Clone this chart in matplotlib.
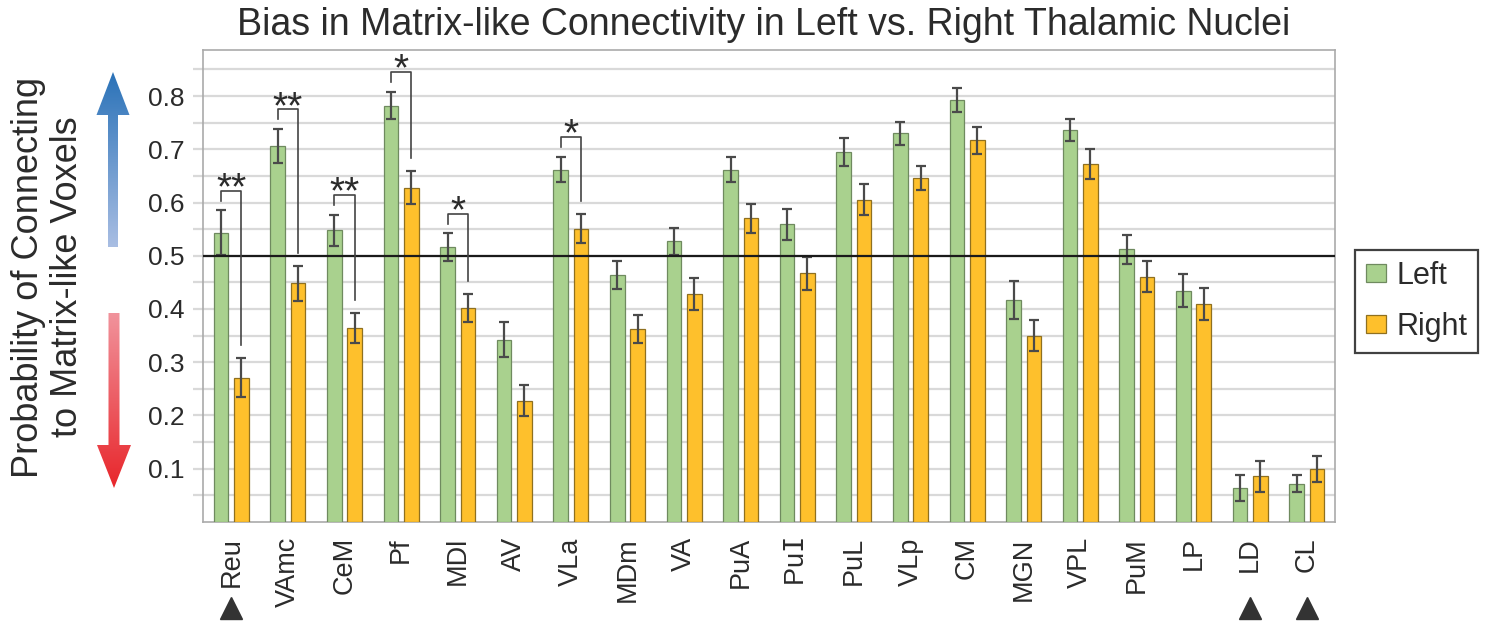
import numpy as np
import matplotlib
matplotlib.use("Agg")
import matplotlib.pyplot as plt
from matplotlib.patches import Polygon
from matplotlib.colors import LinearSegmentedColormap
import matplotlib.transforms as mtransforms

plt.rcParams['font.family'] = ['Liberation Sans', 'DejaVu Sans']

# data
nuclei = ['Reu', 'VAmc', 'CeM', 'Pf', 'MDl', 'AV', 'VLa', 'MDm', 'VA', 'PuA',
          'PuI', 'PuL', 'VLp', 'CM', 'MGN', 'VPL', 'PuM', 'LP', 'LD', 'CL']
left = [0.543, 0.706, 0.548, 0.782, 0.516, 0.342, 0.662, 0.464, 0.527, 0.662,
        0.559, 0.695, 0.730, 0.793, 0.417, 0.736, 0.512, 0.434, 0.064, 0.072]
left_err = [0.042, 0.032, 0.029, 0.026, 0.026, 0.033, 0.024, 0.027, 0.026, 0.024,
            0.029, 0.027, 0.022, 0.023, 0.035, 0.021, 0.027, 0.031, 0.024, 0.016]
right = [0.271, 0.448, 0.364, 0.628, 0.402, 0.228, 0.551, 0.363, 0.428, 0.570,
         0.467, 0.605, 0.646, 0.717, 0.350, 0.672, 0.461, 0.409, 0.086, 0.099]
right_err = [0.036, 0.033, 0.028, 0.031, 0.026, 0.029, 0.027, 0.026, 0.030, 0.027,
             0.031, 0.029, 0.023, 0.025, 0.029, 0.028, 0.029, 0.030, 0.029, 0.024]
sig_nuclei = ['Reu', 'VAmc', 'CeM', 'Pf', 'MDl', 'VLa']
sig_marks = ['**', '**', '**', '*', '*', '*']
flagged = ['Reu', 'LD', 'CL']

GREEN = '#a9d18e'
GOLD = '#fec02c'
TXT = '#2b2b2b'

W, H = 1491, 627
fig = plt.figure(figsize=(W / 100, H / 100), dpi=100)
ax = fig.add_axes([203 / W, 1 - 521.9 / H, (1335 - 203) / W, (521.9 - 50) / H])

x = np.arange(len(nuclei))
bw = 0.26
off = 0.18
ekw = dict(ecolor='#4a4a4a', elinewidth=1.6, capsize=3.8, capthick=1.6)
ax.bar(x - off, left, bw, color=GREEN, edgecolor='#6f8a5f', linewidth=0.9,
       yerr=left_err, error_kw=ekw, zorder=3, label='Left')
ax.bar(x + off, right, bw, color=GOLD, edgecolor='#8f7020', linewidth=0.9,
       yerr=right_err, error_kw=ekw, zorder=3, label='Right')

ax.axhline(0.5, color='#1a1a1a', lw=1.6, zorder=4)

# significance brackets
for name, mark in zip(sig_nuclei, sig_marks):
    i = nuclei.index(name)
    y0 = left[i] + left_err[i] + 0.018
    ytop = y0 + 0.019
    y1 = right[i] + right_err[i] + 0.025
    ax.plot([i - off, i - off, i + off, i + off], [y0, ytop, ytop, y1],
            color='#444444', lw=1.2, zorder=5, clip_on=False)
    ax.text(i, ytop - 0.016, mark, ha='center', va='baseline', fontsize=28,
            color=TXT, zorder=5)

ax.set_xlim(-0.5, len(nuclei) - 0.5)
ax.set_ylim(0, 0.8865)
ax.set_yticks(np.arange(0.1, 0.81, 0.1))
ax.set_yticklabels(['%.1f' % v for v in np.arange(0.1, 0.81, 0.1)])
ax.set_yticks(np.arange(0.05, 0.86, 0.1), minor=True)
ax.grid(axis='y', which='both', color='#d9d9d9', lw=1.6, zorder=0)
ax.tick_params(axis='y', which='both', length=7, width=1.6, color='#d9d9d9',
               pad=6, labelsize=19, labelcolor=TXT)
ax.set_xticks(x)
# the inferior pulvinar is printed with a slab-serif capital I
xlabels = [r'Pu$\mathtt{I}$' if n == 'PuI' else n for n in nuclei]
ax.set_xticklabels(xlabels, rotation=90, fontsize=19.5, color=TXT)
ax.tick_params(axis='x', length=0, pad=11)
for s in ax.spines.values():
    s.set_color('#aaaaaa')
    s.set_linewidth(1.2)

# triangles under flagged nuclei
trans = mtransforms.blended_transform_factory(ax.transData, ax.transAxes)
fx = [nuclei.index(n) for n in flagged]
ax.plot(fx, [-0.182] * len(fx), linestyle='none', marker='^', ms=16,
        color='#333333', transform=trans, clip_on=False)

fig.text(0.512, 1 - 25 / H,
         'Bias in Matrix-like Connectivity in Left vs. Right Thalamic Nuclei',
         ha='center', va='center', fontsize=27, color=TXT)
fig.text(48 / W, 1 - 277 / H, 'Probability of Connecting\nto Matrix-like Voxels',
         rotation=90, ha='center', va='center', fontsize=26, color=TXT,
         linespacing=1.15)

leg = fig.legend(loc='upper left', bbox_to_anchor=(1355 / W, 1 - 250 / H),
                 fontsize=22, frameon=True, fancybox=False, borderaxespad=0,
                 handlelength=0.65, handleheight=0.55, handletextpad=0.35,
                 labelspacing=0.7, borderpad=0.35)
leg.get_frame().set_edgecolor('#111111')
leg.get_frame().set_linewidth(1.6)
for t in leg.get_texts():
    t.set_color(TXT)

# gradient arrows beside the y label
ov = fig.add_axes([0, 0, 1, 1], zorder=-1)
ov.set_xlim(0, W)
ov.set_ylim(H, 0)
ov.axis('off')


def grad_arrow(poly, y_top, y_bot, c_top, c_bot):
    patch = Polygon(poly, closed=True, facecolor='none', edgecolor='none')
    ov.add_patch(patch)
    cmap = LinearSegmentedColormap.from_list('g', [c_top, c_bot])
    grad = np.linspace(0, 1, 256).reshape(-1, 1)
    im = ov.imshow(grad, cmap=cmap, extent=[90, 140, y_bot, y_top],
                   aspect='auto', origin='upper')
    im.set_clip_path(patch)


blue = [(108, 247), (108, 115), (96.5, 115), (113, 72), (129.5, 115), (118, 115), (118, 247)]
grad_arrow(blue, 72, 247, '#2a72b8', '#a9bee3')
red = [(108.5, 313), (108.5, 445), (97, 445), (114, 488), (131, 445), (119.5, 445), (119.5, 313)]
grad_arrow(red, 313, 488, '#f1939c', '#e8262b')
ov.set_xlim(0, W)
ov.set_ylim(H, 0)

fig.savefig('out.png', dpi=100)
